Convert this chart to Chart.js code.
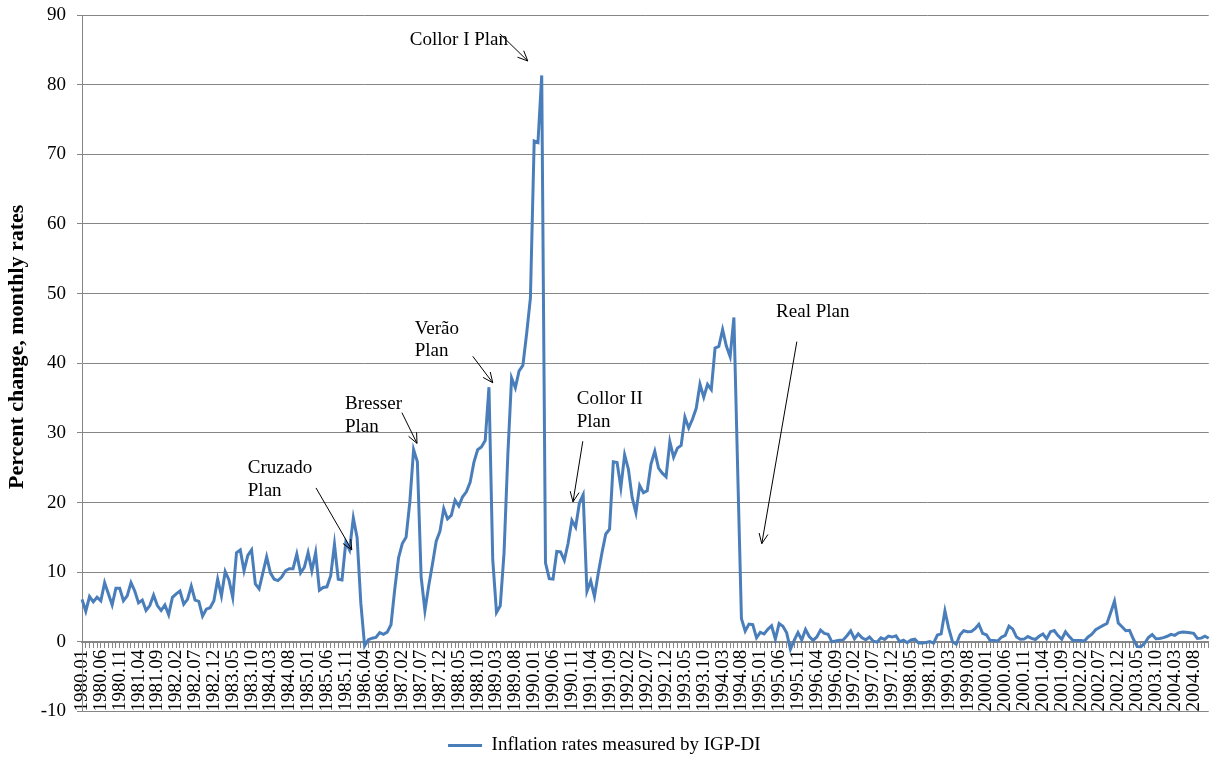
<!DOCTYPE html>
<html>
<head>
<meta charset="utf-8">
<script src="https://cdn.jsdelivr.net/npm/chart.js@4.4.1/dist/chart.umd.min.js"></script>
<style>
  html, body { margin: 0; padding: 0; overflow: hidden; background: #ffffff; }
  #wrap { width: 1212px; height: 765px; }
</style>
</head>
<body>
<div id="wrap"><canvas id="chart" width="1212" height="765"></canvas></div>
<script>
// ---- data: monthly IGP-DI inflation (%) ----
const infl1980 = [6.1, 4.4, 6.5, 5.75, 6.4, 5.9, 8.5, 6.9, 5.3, 7.7, 7.7, 5.9];
const infl1981 = [6.6, 8.5, 7.3, 5.6, 6.0, 4.5, 5.2, 6.7, 5.2, 4.5, 5.3, 3.9];
const infl1982 = [6.4, 6.9, 7.3, 5.4, 6.1, 8.0, 6.0, 5.8, 3.7, 4.7, 4.9, 5.9];
const infl1983 = [9.0, 6.6, 10.1, 8.9, 6.4, 12.8, 13.2, 10.2, 12.4, 13.2, 8.3, 7.6];
const infl1984 = [9.9, 12.2, 9.9, 9.0, 8.8, 9.3, 10.2, 10.5, 10.5, 12.6, 9.9, 10.7];
const infl1985 = [12.8, 10.2, 12.8, 7.4, 7.8, 7.9, 9.5, 14.0, 9.0, 8.9, 14.3, 13.2];
const infl1986 = [17.79, 14.98, 5.52, -0.58, 0.32, 0.53, 0.63, 1.33, 1.09, 1.39, 2.46, 7.56];
const infl1987 = [12.04, 14.11, 15.00, 20.08, 27.58, 25.87, 9.33, 4.50, 8.02, 11.15, 14.46, 15.89];
const infl1988 = [19.14, 17.65, 18.16, 20.33, 19.51, 20.83, 21.54, 22.89, 25.76, 27.58, 27.97, 28.89];
const infl1989 = [36.56, 11.80, 4.23, 5.17, 12.76, 26.76, 37.88, 36.48, 38.92, 39.70, 44.27, 49.39];
const infl1990 = [71.90, 71.68, 81.32, 11.33, 9.07, 9.02, 12.98, 12.93, 11.72, 14.16, 17.45, 16.46];
const infl1991 = [19.93, 21.11, 7.25, 8.74, 6.52, 9.86, 12.83, 15.49, 16.19, 25.85, 25.76, 22.14];
const infl1992 = [26.84, 24.79, 20.70, 18.54, 22.45, 21.42, 21.69, 25.54, 27.37, 24.94, 24.22, 23.70];
const infl1993 = [28.73, 26.51, 27.81, 28.21, 32.27, 30.72, 31.96, 33.53, 36.99, 35.14, 36.96, 36.22];
const infl1994 = [42.19, 42.41, 44.83, 42.46, 40.95, 46.58, 24.71, 3.34, 1.55, 2.55, 2.47, 0.57];
const infl1995 = [1.36, 1.15, 1.81, 2.30, 0.40, 2.62, 2.24, 1.29, -1.08, 0.23, 1.33, 0.27];
const infl1996 = [1.79, 0.76, 0.22, 0.70, 1.68, 1.22, 1.09, 0.00, 0.13, 0.22, 0.28, 0.88];
const infl1997 = [1.58, 0.42, 1.16, 0.59, 0.30, 0.70, 0.09, -0.04, 0.59, 0.34, 0.83, 0.69];
const infl1998 = [0.88, 0.02, 0.23, -0.13, 0.28, 0.38, -0.17, -0.16, -0.08, 0.03, -0.18, 0.98];
const infl1999 = [1.15, 4.44, 1.98, 0.03, -0.34, 1.02, 1.59, 1.45, 1.47, 1.89, 2.53, 1.23];
const infl2000 = [1.02, 0.19, 0.18, 0.13, 0.67, 0.93, 2.26, 1.82, 0.69, 0.37, 0.39, 0.76];
const infl2001 = [0.49, 0.34, 0.80, 1.13, 0.44, 1.46, 1.62, 0.90, 0.38, 1.45, 0.76, 0.18];
const infl2002 = [0.19, 0.18, 0.11, 0.70, 1.11, 1.74, 2.05, 2.36, 2.64, 4.21, 5.84, 2.70];
const infl2003 = [2.17, 1.59, 1.66, 0.41, -0.67, -0.70, -0.20, 0.62, 1.05, 0.44, 0.48, 0.60];
const infl2004 = [0.80, 1.08, 0.93, 1.29, 1.41, 1.38, 1.31, 1.22, 0.48, 0.53, 0.82, 0.52];

const years = [1980, 1981, 1982, 1983, 1984, 1985, 1986, 1987, 1988, 1989, 1990, 1991, 1992,
               1993, 1994, 1995, 1996, 1997, 1998, 1999, 2000, 2001, 2002, 2003, 2004];
const monthCodes = ['01','02','03','04','05','06','07','08','09','10','11','12'];
const seriesName = 'Inflation rates measured by IGP-DI';
const axisTitle = 'Percent change, monthly rates';
const yTicks = { min: -10, max: 90, step: 10 };
const labelEvery = 5;   // a category label every 5 months (1980.01, 1980.06, ...)

// plan annotations: text anchored at (category index, value); arrows from tail to head
const planNotes = [
  { lines: ['Collor I Plan'], at: 87.0, rows: [86.4], tail: [110.9, 87.3], head: [118.3, 83.4] },
  { lines: ['Verão', 'Plan'], at: 88.3, rows: [44.85, 41.7], tail: [103.7, 41.0], head: [109.0, 37.2] },
  { lines: ['Bresser', 'Plan'], at: 69.8, rows: [34.1, 30.9], tail: [84.9, 32.9], head: [88.9, 28.5] },
  { lines: ['Cruzado', 'Plan'], at: 44.0, rows: [24.9, 21.6], tail: [62.1, 22.1], head: [71.6, 13.2] },
  { lines: ['Collor II', 'Plan'], at: 131.3, rows: [34.8, 31.6], tail: [132.9, 28.8], head: [130.3, 20.1] },
  { lines: ['Real Plan'], at: 184.2, rows: [47.4], tail: [189.7, 43.1], head: [180.4, 14.1] }
];

// ---- build structures for the library ----
const categories = [];
years.forEach(y => monthCodes.forEach(m => categories.push(y + '.' + m)));
const inflation = [].concat(infl1980, infl1981, infl1982, infl1983, infl1984, infl1985, infl1986,
  infl1987, infl1988, infl1989, infl1990, infl1991, infl1992, infl1993, infl1994, infl1995,
  infl1996, infl1997, infl1998, infl1999, infl2000, infl2001, infl2002, infl2003, infl2004);

const FONT = "'Liberation Serif', 'Times New Roman', serif";
Chart.defaults.font.family = FONT;
Chart.defaults.color = '#000000';

const notesPlugin = {
  id: 'planNotes',
  afterDatasetsDraw(chart) {
    const { ctx } = chart;
    const xs = chart.scales.x, ys = chart.scales.y;
    ctx.save();
    ctx.font = '19px ' + FONT;
    ctx.fillStyle = '#000000';
    ctx.textAlign = 'left';
    ctx.textBaseline = 'middle';
    ctx.strokeStyle = '#000000';
    ctx.lineWidth = 1;
    planNotes.forEach(n => {
      const tx = xs.getPixelForValue(n.at);
      n.lines.forEach((t, k) => ctx.fillText(t, tx, ys.getPixelForValue(n.rows[k])));
      const x1 = xs.getPixelForValue(n.tail[0]), y1 = ys.getPixelForValue(n.tail[1]);
      const x2 = xs.getPixelForValue(n.head[0]), y2 = ys.getPixelForValue(n.head[1]);
      ctx.beginPath();
      ctx.moveTo(x1, y1);
      ctx.lineTo(x2, y2);
      const ang = Math.atan2(y2 - y1, x2 - x1);
      const len = 11, spread = 0.42;
      ctx.moveTo(x2 - len * Math.cos(ang - spread), y2 - len * Math.sin(ang - spread));
      ctx.lineTo(x2, y2);
      ctx.lineTo(x2 - len * Math.cos(ang + spread), y2 - len * Math.sin(ang + spread));
      ctx.stroke();
    });
    ctx.restore();
  }
};

function zeroPad(s) { s.paddingLeft = 0; s.paddingRight = 0; s.paddingTop = 0; s.paddingBottom = 0; }

new Chart(document.getElementById('chart'), {
  type: 'line',
  data: {
    labels: categories,
    datasets: [{
      label: seriesName,
      data: inflation,
      borderColor: '#4a7ebb',
      backgroundColor: '#4a7ebb',
      borderWidth: 3,
      pointRadius: 0,
      pointHoverRadius: 0,
      tension: 0,
      fill: false
    }]
  },
  options: {
    responsive: false,
    animation: false,
    devicePixelRatio: 1,
    layout: { padding: { top: 15, left: 0, right: 3.3, bottom: 0 } },
    plugins: {
      tooltip: { enabled: false },
      legend: {
        position: 'bottom',
        labels: {
          usePointStyle: true,
          pointStyle: 'line',
          pointStyleWidth: 34,
          padding: 24.5,
          color: '#000000',
          font: { size: 19, family: FONT }
        }
      }
    },
    scales: {
      x: {
        type: 'category',
        offset: false,
        position: { y: 0 },
        ticks: {
          autoSkip: false,
          minRotation: 90,
          maxRotation: 90,
          padding: 3,
          color: '#000000',
          font: { size: 19, family: FONT },
          callback: (v, i) => (i % labelEvery === 0 ? categories[i] : '')
        },
        grid: { drawOnChartArea: false, drawTicks: true, tickLength: 5, color: '#868686', offset: false },
        border: { color: '#868686', width: 2 },
        afterFit(s) { zeroPad(s); }
      },
      y: {
        min: yTicks.min,
        max: yTicks.max,
        ticks: { stepSize: yTicks.step, padding: 11, color: '#000000', font: { size: 19, family: FONT } },
        grid: { color: '#868686', lineWidth: 1, drawTicks: true, tickLength: 5 },
        border: { color: '#868686', width: 1 },
        title: {
          display: true,
          text: '      ' + axisTitle,
          color: '#000000',
          font: { size: 22, weight: 'bold', family: FONT },
          padding: { top: 4, bottom: 0 }
        },
        afterFit(s) { s.width = 82; zeroPad(s); }
      }
    }
  },
  plugins: [notesPlugin]
});
</script>
</body>
</html>
